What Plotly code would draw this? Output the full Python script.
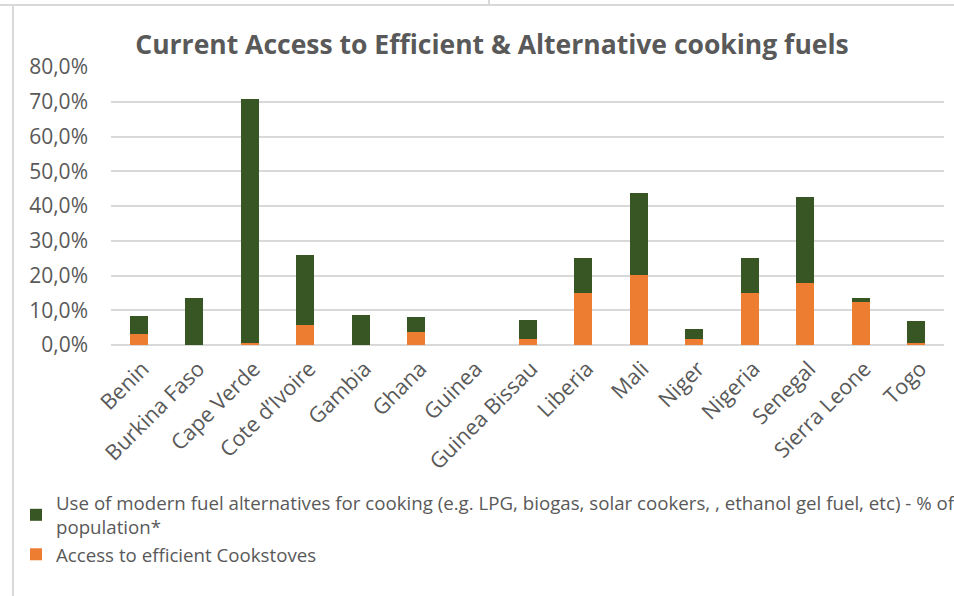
import plotly.graph_objects as go

countries = ['Benin', 'Burkina Faso', 'Cape Verde', 'Cote d\u2019Ivoire', 'Gambia', 'Ghana',
             'Guinea', 'Guinea Bissau', 'Liberia', 'Mali', 'Niger', 'Nigeria',
             'Senegal', 'Sierra Leone', 'Togo']

# share of population
cookstoves = [0.033, 0.0, 0.007, 0.059, 0.0, 0.038, 0.0, 0.016, 0.150, 0.201,
              0.016, 0.150, 0.179, 0.125, 0.007]
modern_fuel = [0.050, 0.135, 0.700, 0.199, 0.087, 0.042, 0.0, 0.057, 0.099, 0.237,
               0.030, 0.099, 0.247, 0.010, 0.061]

name_fuel = ('Use of modern fuel alternatives for cooking (e.g. LPG, biogas, solar cookers, , '
             'ethanol gel fuel, etc) - % of<br>population*')
name_stoves = 'Access to efficient Cookstoves'

grey = '#595959'
fnt = 'Open Sans'

fig = go.Figure()

fig.add_trace(go.Bar(x=countries, y=cookstoves, name=name_stoves,
                     marker=dict(color='#ED7D31', line=dict(width=0))))
fig.add_trace(go.Bar(x=countries, y=modern_fuel, name=name_fuel,
                     marker=dict(color='#375623', line=dict(width=0))))

fig.update_layout(
    width=954, height=596,
    barmode='stack', bargap=0.676,
    separators=',.',
    plot_bgcolor='white', paper_bgcolor='white',
    margin=dict(l=111, r=10, t=67, b=251, autoexpand=False),
    font=dict(family=fnt, color=grey),
    title=dict(text='<b>Current Access to Efficient & Alternative cooking fuels</b>',
               x=492 / 954, xanchor='center', y=1 - 45 / 596, yanchor='middle',
               font=dict(size=26.5, color=grey, family=fnt)),
    legend=dict(orientation='v', traceorder='reversed',
                xref='container', yref='container',
                x=16 / 954, xanchor='left', y=1 - 484 / 596, yanchor='top',
                font=dict(size=18.7, color=grey), itemwidth=30, tracegroupgap=4),
    showlegend=True,
)

fig.update_yaxes(range=[0, 0.8], dtick=0.1, tickformat='.1%',
                 showgrid=True, gridcolor='#D9D9D9', gridwidth=1.5,
                 zeroline=True, zerolinecolor='#D9D9D9', zerolinewidth=1.5,
                 tickfont=dict(size=21, color=grey), ticks='', ticklabelstandoff=22)
fig.update_xaxes(tickangle=-45, tickfont=dict(size=21.5, color=grey),
                 showline=False, ticks='', ticklabelstandoff=6, ticklabelshift=4)

# frame of the spreadsheet chart object
fig.add_shape(type='line', xref='paper', yref='paper',
              x0=-111 / 833, x1=(954 - 111) / 833 + 0.05,
              y0=1 + 62 / 278, y1=1 + 62 / 278,
              line=dict(color='#D9D9D9', width=2))
fig.add_shape(type='line', xref='paper', yref='paper',
              x0=-98 / 833, x1=-98 / 833,
              y0=1 + 62 / 278, y1=-260 / 278,
              line=dict(color='#D9D9D9', width=2))
fig.add_shape(type='line', xref='paper', yref='paper',
              x0=378 / 833, x1=378 / 833,
              y0=1 + 62 / 278, y1=1 + 70 / 278,
              line=dict(color='#D9D9D9', width=2))

fig.write_html('out.html', config={'displayModeBar': False},
               post_script="document.body.style.margin='0';")
